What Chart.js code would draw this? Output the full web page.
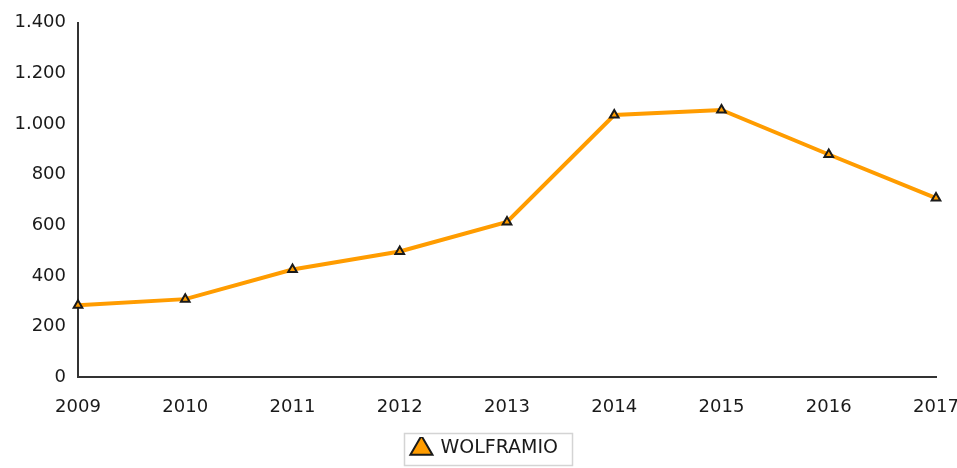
<!DOCTYPE html>
<html>
<head>
<meta charset="utf-8">
<script src="https://cdn.jsdelivr.net/npm/chart.js@4.4.1/dist/chart.umd.min.js"></script>
<style>
  html, body { margin: 0; padding: 0; background: #fff; }
  #wrap { width: 957px; height: 468px; }
</style>
</head>
<body>
<div id="wrap"><canvas id="chart" width="957" height="468"></canvas></div>
<script>
const years = ['2009', '2010', '2011', '2012', '2013', '2014', '2015', '2016', '2017'];
const wolframio = [285, 309, 426, 497, 614, 1036, 1056, 880, 708];
const seriesName = 'WOLFRAMIO';

// nudge the legend a bit right and draw a thin grey frame around it
const legendFrame = {
    id: 'legendFrame',
    afterLayout(chart) {
        chart.legend.left += 17;
        chart.legend.right += 17;
    },
    afterDraw(chart) {
        const box = chart.legend.legendHitBoxes[0];
        if (!box) return;
        const ctx = chart.ctx;
        ctx.save();
        ctx.strokeStyle = '#d4d4d4';
        ctx.lineWidth = 1.5;
        ctx.strokeRect(Math.round(box.left) - 7.5, Math.round(box.top) - 5.5,
                       Math.round(box.width) + 22, Math.round(box.height) + 13);
        ctx.restore();
    }
};

Chart.defaults.font.family = '"DejaVu Sans", sans-serif';
Chart.defaults.font.size = 18;
Chart.defaults.color = '#1a1a1a';

const ctx = document.getElementById('chart').getContext('2d');
window.myChart = new Chart(ctx, {
    type: 'line',
    data: {
        labels: years,
        datasets: [{
            label: seriesName,
            data: wolframio,
            borderColor: '#ff9c00',
            backgroundColor: '#ff9c00',
            borderWidth: 4,
            tension: 0,
            pointStyle: 'triangle',
            pointRadius: 5,
            pointBorderColor: '#1a1a1a',
            pointBorderWidth: 2,
            pointBackgroundColor: '#ff9c00'
        }]
    },
    options: {
        responsive: false,
        animation: false,
        layout: { padding: { left: 0, right: 21, top: 20, bottom: 0 } },
        plugins: {
            tooltip: { enabled: false },
            legend: {
                position: 'bottom',
                labels: {
                    usePointStyle: true,
                    pointStyle: 'triangle',
                    boxWidth: 20,
                    boxHeight: 18,
                    padding: 2,
                    color: '#1a1a1a',
                    font: { size: 19 }
                }
            }
        },
        scales: {
            x: {
                offset: false,
                grid: { display: false, drawTicks: false },
                border: { display: true, color: '#333', width: 2 },
                ticks: { padding: 19, maxRotation: 0 },
                // let the first and last year labels hang past the plot edges
                afterFit(scale) { scale.paddingLeft = 0; scale.paddingRight = 0; }
            },
            y: {
                min: 0,
                max: 1400,
                grid: { display: false, drawTicks: false },
                border: { display: true, color: '#333', width: 2 },
                ticks: {
                    stepSize: 200,
                    padding: 12,
                    callback: v => v.toLocaleString('de-DE')
                },
                afterFit(scale) { scale.width = 78; }
            }
        }
    },
    plugins: [legendFrame]
});
</script>
</body>
</html>
